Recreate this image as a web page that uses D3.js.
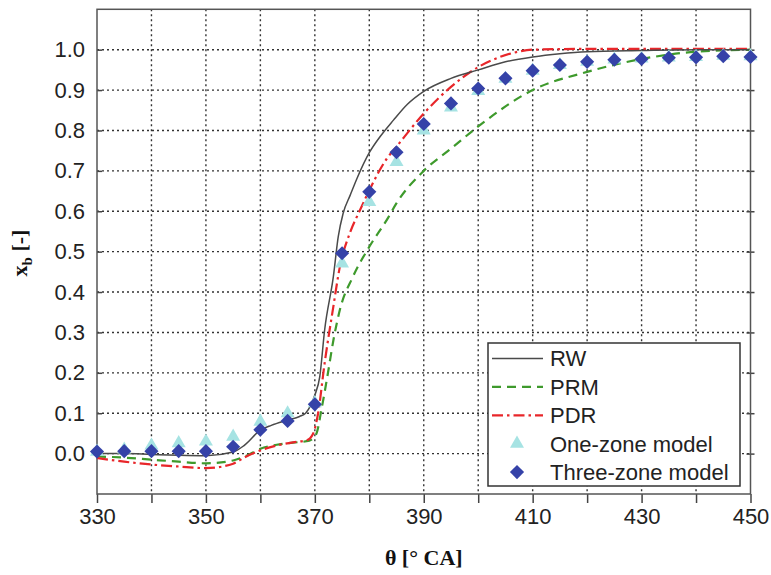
<!DOCTYPE html>
<html>
<head>
<meta charset="UTF-8">
<title>xb vs crank angle</title>
<script src="https://d3js.org/d3.v7.min.js"></script>
<style>
  body { margin: 0; background: #fff; }
  .tick text { font-family: "Liberation Sans", Arial, sans-serif; font-size: 22px; fill: #222; }
  .grid line { stroke: #333; stroke-width: 1.4px; stroke-dasharray: 2,3; }
</style>
</head>
<body>
<svg id="chart" width="771" height="575"></svg>
<script>
// marker series (every 5 deg)
const markerTheta = [330,335,340,345,350,355,360,365,370,375,380,385,390,395,400,405,410,415,420,425,430,435,440,445,450];
const oneZone   = [0.005,0.010,0.020,0.026,0.030,0.042,0.079,0.100,0.125,0.471,0.623,0.722,0.800,0.857,0.898,0.928,0.948,0.962,0.970,0.976,0.978,0.981,0.982,0.985,0.984];
const threeZone = [0.005,0.006,0.006,0.006,0.006,0.017,0.059,0.081,0.122,0.496,0.648,0.746,0.816,0.867,0.904,0.929,0.948,0.962,0.970,0.975,0.977,0.980,0.981,0.984,0.982];

// RW (solid)
const rwTheta = [330,335,340,345,350,355,357,360,362,365,367.2,368.3,370,370.9,371.8,373.4,374.3,375.2,376.5,377.7,380,382,384.4,387,390,395,400,405,410,415,420,430,440,450];
const rwXb    = [0.0,0.0,-0.002,-0.004,-0.005,0.004,0.02,0.058,0.07,0.083,0.092,0.1,0.145,0.19,0.306,0.438,0.537,0.595,0.64,0.68,0.745,0.785,0.825,0.865,0.897,0.929,0.95,0.97,0.982,0.99,0.995,0.998,1.0,1.0];

// PRM (dashed)
const prmTheta = [330,335,340,345,350,355,357,360,363,366,369,370.3,371.2,372.4,373.4,374.6,377,380,383.5,385,390,395,400,410,420,430,440,450];
const prmXb    = [-0.007,-0.01,-0.015,-0.02,-0.024,-0.017,-0.008,0.012,0.022,0.027,0.032,0.05,0.108,0.199,0.28,0.356,0.438,0.512,0.585,0.62,0.7,0.755,0.81,0.9,0.945,0.977,0.995,1.0];

// PDR (dash-dot)
const pdrTheta = [330,335,340,345,350,355,357,360,363,366,368.5,369.7,370.6,371.8,373.4,374.6,376.4,378.3,380,383.2,385,390,395,400,404,407,410,420,450];
const pdrXb    = [-0.011,-0.02,-0.027,-0.032,-0.036,-0.025,-0.01,0.008,0.02,0.028,0.033,0.05,0.1,0.224,0.364,0.463,0.545,0.603,0.652,0.73,0.76,0.842,0.908,0.957,0.982,0.994,1.0,1.002,1.002];

const xTicks = [330,340,350,360,370,380,390,400,410,420,430,440,450];
const xLabels = [330,350,370,390,410,430,450];
const yTicks = [0,0.1,0.2,0.3,0.4,0.5,0.6,0.7,0.8,0.9,1.0];
const legendNames = ["RW","PRM","PDR","One-zone model","Three-zone model"];

const pLeft = 97, pRight = 750.5, pTop = 9.3, pBottom = 494;
const svg = d3.select("#chart");

const x = d3.scaleLinear().domain([330, 450]).range([pLeft, pRight]);
const y = d3.scaleLinear().domain([-0.1, 1.1]).range([pBottom, pTop]);

// grid
const grid = svg.append("g").attr("class", "grid");
grid.selectAll(".gx")
    .data(xTicks.slice(1, -1))
    .enter().append("line")
    .attr("x1", d => x(d)).attr("x2", d => x(d))
    .attr("y1", pTop).attr("y2", pBottom);
grid.selectAll(".gy")
    .data(yTicks)
    .enter().append("line")
    .attr("x1", pLeft).attr("x2", pRight)
    .attr("y1", d => y(d)).attr("y2", d => y(d));

// axes
const xAxis = d3.axisBottom(x)
    .tickValues(xTicks)
    .tickSize(9)
    .tickPadding(5)
    .tickFormat(d => xLabels.includes(d) ? d : "");
svg.append("g")
   .attr("transform", `translate(0,${pBottom})`)
   .call(xAxis)
   .call(g => g.select(".domain").remove())
   .call(g => g.selectAll(".tick line").attr("stroke", "#444").attr("stroke-width", 1.5));

const yAxis = d3.axisLeft(y)
    .tickValues(yTicks)
    .tickSize(-5)
    .tickPadding(12)
    .tickFormat(d3.format(".1f"));
svg.append("g")
   .attr("transform", `translate(${pLeft},0)`)
   .call(yAxis)
   .call(g => g.select(".domain").remove())
   .call(g => g.selectAll(".tick line").attr("stroke", "#444").attr("stroke-width", 1.5));

// right border ticks cross the frame
svg.append("g")
   .attr("transform", `translate(${pRight + 4},0)`)
   .call(d3.axisLeft(y).tickValues(yTicks).tickSize(8).tickFormat(""))
   .call(g => g.select(".domain").remove())
   .call(g => g.selectAll(".tick line").attr("stroke", "#444").attr("stroke-width", 1.5));

// frame
svg.append("rect")
   .attr("x", pLeft).attr("y", pTop)
   .attr("width", pRight - pLeft).attr("height", pBottom - pTop)
   .attr("fill", "none").attr("stroke", "#555").attr("stroke-width", 1.5);

// lines
const line = d3.line()
    .x(d => x(d[0]))
    .y(d => y(d[1]))
    .curve(d3.curveMonotoneX);

const zip = (a, b) => a.map((v, i) => [v, b[i]]);

const series = [
    { data: zip(prmTheta, prmXb), color: "#3e9a2c", width: 2.2, dash: "9,6" },
    { data: zip(pdrTheta, pdrXb), color: "#e8262a", width: 2.2, dash: "11,4,2.5,4" },
    { data: zip(rwTheta, rwXb), color: "#4a4a4a", width: 1.5, dash: null }
];
series.forEach(s => {
    svg.append("path")
       .datum(s.data)
       .attr("fill", "none")
       .attr("stroke", s.color)
       .attr("stroke-width", s.width)
       .attr("stroke-dasharray", s.dash)
       .attr("d", line);
});

// markers
const triColor = "#a6e3e3", diaColor = "#3542a8";
const tri = d3.symbol().type(d3.symbolTriangle).size(85);
const dia = d3.symbol().type(d3.symbolSquare).size(100);

svg.append("g").selectAll("path")
   .data(zip(markerTheta, oneZone))
   .enter().append("path")
   .attr("d", tri)
   .attr("fill", triColor)
   .attr("transform", d => `translate(${x(d[0])},${y(d[1])})`);

svg.append("g").selectAll("path")
   .data(zip(markerTheta, threeZone))
   .enter().append("path")
   .attr("d", dia)
   .attr("fill", diaColor)
   .attr("transform", d => `translate(${x(d[0])},${y(d[1])}) rotate(45)`);

// legend
const lg = svg.append("g");
lg.append("rect")
  .attr("x", 488).attr("y", 343).attr("width", 252).attr("height", 143)
  .attr("fill", "#fff").attr("stroke", "#333").attr("stroke-width", 1.5);

const legendStyle = [
    { kind: "line", color: "#4a4a4a", width: 1.5, dash: null },
    { kind: "line", color: "#3e9a2c", width: 2.2, dash: "9,6" },
    { kind: "line", color: "#e8262a", width: 2.2, dash: "11,4,2.5,4" },
    { kind: "tri" },
    { kind: "dia" }
];
legendNames.forEach((name, i) => {
    const cy = 358.5 + i * 28.4;
    const st = legendStyle[i];
    if (st.kind === "line") {
        lg.append("line")
          .attr("x1", 492).attr("x2", 543)
          .attr("y1", cy).attr("y2", cy)
          .attr("stroke", st.color).attr("stroke-width", st.width)
          .attr("stroke-dasharray", st.dash);
    } else {
        lg.append("path")
          .attr("d", st.kind === "tri" ? tri : dia)
          .attr("fill", st.kind === "tri" ? triColor : diaColor)
          .attr("transform", `translate(517,${cy})` + (st.kind === "dia" ? " rotate(45)" : ""));
    }
    lg.append("text")
      .attr("x", 550).attr("y", cy).attr("dy", "0.36em")
      .attr("font-family", "Liberation Sans, Arial, sans-serif")
      .attr("font-size", 22).attr("fill", "#222")
      .text(name);
});

// axis titles
svg.append("text")
   .attr("x", (pLeft + pRight) / 2).attr("y", 565)
   .attr("text-anchor", "middle")
   .attr("font-family", "Liberation Serif, Times New Roman, serif")
   .attr("font-weight", "bold").attr("font-size", 22).attr("fill", "#111")
   .text("θ [° CA]");

const yt = svg.append("text")
   .attr("transform", "translate(27,253) rotate(-90)")
   .attr("text-anchor", "middle")
   .attr("font-family", "Liberation Serif, Times New Roman, serif")
   .attr("font-weight", "bold").attr("font-size", 22).attr("fill", "#111");
yt.append("tspan").text("x");
yt.append("tspan").attr("dy", 5).attr("font-size", 15).text("b");
yt.append("tspan").attr("dy", -5).text(" [-]");
</script>
</body>
</html>
